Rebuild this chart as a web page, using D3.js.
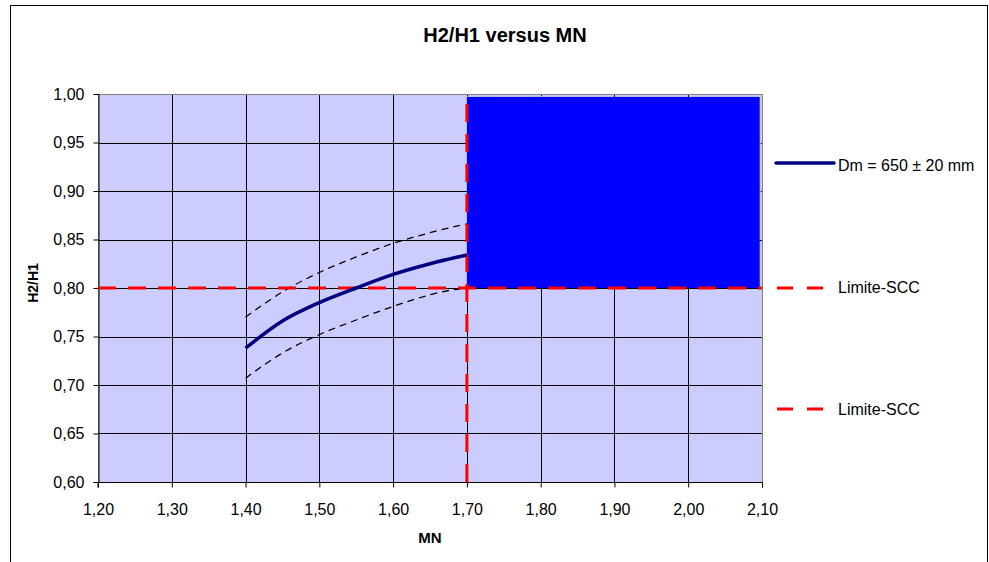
<!DOCTYPE html>
<html>
<head>
<meta charset="utf-8">
<script src="https://cdn.jsdelivr.net/npm/d3@7"></script>
<style>
  html, body { margin: 0; padding: 0; background: #fff; }
  svg { display: block; font-family: "Liberation Sans", Arial, sans-serif; }
</style>
</head>
<body>
<svg id="chart" width="989" height="562"></svg>
<script>
// Axis ticks
const mnTicks = [1.20, 1.30, 1.40, 1.50, 1.60, 1.70, 1.80, 1.90, 2.00, 2.10];
const h2h1Ticks = [0.60, 0.65, 0.70, 0.75, 0.80, 0.85, 0.90, 0.95, 1.00];

// Dm = 650 ± 20 mm curve and its band
const mn      = [1.40, 1.45, 1.50, 1.55, 1.60, 1.65, 1.66, 1.70];
const dmMid   = [0.738, 0.766, 0.785, 0.800, 0.814, 0.825, 0.827, 0.834];
const dmUpper = [0.770, 0.796, 0.816, 0.832, 0.846, 0.857, 0.859, 0.866];
const dmLower = [0.707, 0.733, 0.752, 0.767, 0.781, 0.793, 0.795, 0.800];

// SCC limits
const limitH2H1 = 0.80;
const limitMN = 1.70;

// Admissible zone
const zoneMN   = [1.70, 2.097];
const zoneH2H1 = [0.80, 0.997];

const legendLabels = ["Dm = 650 ± 20 mm", "Limite-SCC", "Limite-SCC"];

const svg = d3.select("#chart");
const plot = { left: 98, right: 762, top: 94, bottom: 482 };

const x = d3.scaleLinear().domain([1.20, 2.10]).range([plot.left, plot.right]);
const y = d3.scaleLinear().domain([0.60, 1.00]).range([plot.bottom, plot.top]);
const fmt = v => d3.format(".2f")(v).replace(".", ",");

// Chart frame
svg.append("rect")
  .attr("x", 10.5).attr("y", 5.5).attr("width", 977).attr("height", 600)
  .attr("fill", "#fff").attr("stroke", "#000").attr("stroke-width", 1);

// Plot background
svg.append("rect")
  .attr("x", plot.left).attr("y", plot.top)
  .attr("width", plot.right - plot.left).attr("height", plot.bottom - plot.top)
  .attr("fill", "#CCCCFF");

// Grid
const grid = svg.append("g").attr("stroke", "#000").attr("stroke-width", 1);
grid.selectAll("line.v").data(mnTicks.slice(1, -1)).join("line")
  .attr("x1", d => Math.round(x(d)) + 0.5).attr("x2", d => Math.round(x(d)) + 0.5)
  .attr("y1", plot.top).attr("y2", plot.bottom);
grid.selectAll("line.h").data(h2h1Ticks.slice(1, -1)).join("line")
  .attr("y1", d => Math.round(y(d)) + 0.5).attr("y2", d => Math.round(y(d)) + 0.5)
  .attr("x1", plot.left).attr("x2", plot.right);

// Plot border
svg.append("rect")
  .attr("x", plot.left + 0.5).attr("y", plot.top + 0.5)
  .attr("width", plot.right - plot.left).attr("height", plot.bottom - plot.top)
  .attr("fill", "none").attr("stroke", "#808080").attr("stroke-width", 1);

// Zone
svg.append("rect")
  .attr("x", x(zoneMN[0])).attr("y", y(zoneH2H1[1]))
  .attr("width", x(zoneMN[1]) - x(zoneMN[0]))
  .attr("height", y(zoneH2H1[0]) - y(zoneH2H1[1]))
  .attr("fill", "#0000FF");
svg.append("path")
  .attr("d", `M${x(zoneMN[0])},${y(zoneH2H1[1]) - 0.5}H${x(zoneMN[1]) + 0.5}V${y(zoneH2H1[0])}`)
  .attr("fill", "none").attr("stroke", "#BBBBBB").attr("stroke-width", 1)
  .attr("stroke-dasharray", "1,1");

// Axes
const xAxis = svg.append("g")
  .attr("transform", `translate(0,${plot.bottom + 0.5})`)
  .call(d3.axisBottom(x).tickValues(mnTicks).tickFormat(fmt).tickSize(5).tickPadding(16));
const yAxis = svg.append("g")
  .attr("transform", `translate(${plot.left + 0.5},0)`)
  .call(d3.axisLeft(y).tickValues(h2h1Ticks).tickFormat(fmt).tickSize(5).tickPadding(9));
[xAxis, yAxis].forEach(a => {
  a.select(".domain").attr("stroke", "#000");
  a.selectAll(".tick line").attr("stroke", "#000");
  a.selectAll("text").attr("font-size", 16).attr("fill", "#000")
    .attr("font-family", "'Liberation Sans', Arial, sans-serif");
});
xAxis.select(".domain").attr("d", `M${plot.left},5V0H${plot.right + 0.5}V5`);

// Band curves
const line = d3.line().x((d, i) => x(mn[i])).y(d => y(d)).curve(d3.curveMonotoneX);
[dmUpper, dmLower].forEach(s => {
  svg.append("path").datum(s).attr("d", line)
    .attr("fill", "none").attr("stroke", "#000").attr("stroke-width", 1.3)
    .attr("stroke-dasharray", "7,5");
});

// SCC limit lines
svg.append("line")
  .attr("x1", x(1.20)).attr("x2", x(2.10))
  .attr("y1", y(limitH2H1)).attr("y2", y(limitH2H1))
  .attr("stroke", "#FF0000").attr("stroke-width", 3).attr("stroke-dasharray", "18,12");
svg.append("line")
  .attr("x1", x(limitMN)).attr("x2", x(limitMN))
  .attr("y1", y(0.60)).attr("y2", y(1.00))
  .attr("stroke", "#FF0000").attr("stroke-width", 3).attr("stroke-dasharray", "18,12");

// Main curve
svg.append("path").datum(dmMid).attr("d", line)
  .attr("fill", "none").attr("stroke", "#000080").attr("stroke-width", 3.5)
  .attr("stroke-linejoin", "round");

// Legend
const lg = svg.append("g").attr("font-size", 16).attr("fill", "#000");
lg.append("line").attr("x1", 776).attr("x2", 834).attr("y1", 163).attr("y2", 163)
  .attr("stroke", "#000080").attr("stroke-width", 3.5).attr("stroke-linecap", "round");
[288, 409].forEach(yy => {
  lg.append("line").attr("x1", 777).attr("x2", 827).attr("y1", yy).attr("y2", yy)
    .attr("stroke", "#FF0000").attr("stroke-width", 3).attr("stroke-dasharray", "16,14");
});
[171, 293, 415].forEach((yy, i) => {
  lg.append("text").attr("x", 838).attr("y", yy).text(legendLabels[i]);
});

// Titles
svg.append("text").attr("x", 505).attr("y", 42).attr("text-anchor", "middle")
  .attr("font-size", 20).attr("font-weight", "bold").text("H2/H1 versus MN");
svg.append("text").attr("x", 430).attr("y", 543).attr("text-anchor", "middle")
  .attr("font-size", 15).attr("font-weight", "bold").text("MN");
svg.append("text").attr("transform", "translate(38,283) rotate(-90)")
  .attr("text-anchor", "middle").attr("font-size", 14).attr("font-weight", "bold").text("H2/H1");
</script>
</body>
</html>
